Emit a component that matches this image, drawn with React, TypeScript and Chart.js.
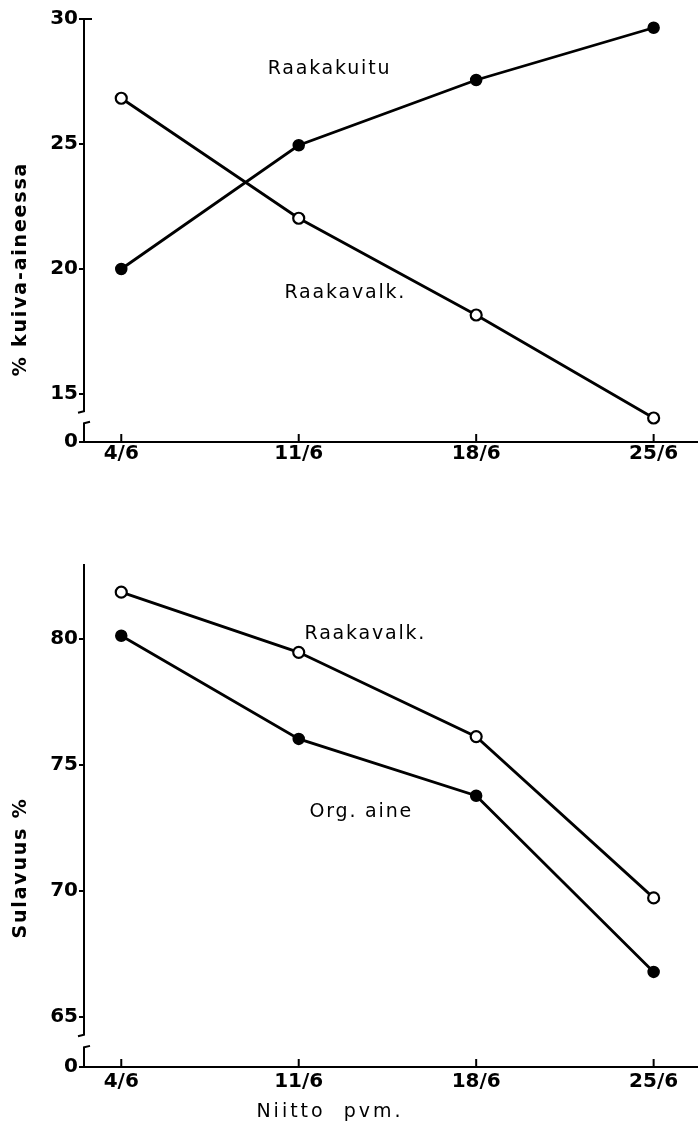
import React, { useEffect, useRef } from "react";
import { Chart, registerables } from "chart.js";
Chart.register(...registerables);

// ---- data ----
const categories = ["4/6", "11/6", "18/6", "25/6"];
// top panel: % kuiva-aineessa
const raakakuitu = [20.0, 24.95, 27.56, 29.65];
const raakavalkTop = [26.83, 22.03, 18.16, 14.04];
const topTicks = [15, 20, 25, 30];
const topMin = 13.08; // position of broken-axis "0"
const topMax = 30;
// bottom panel: Sulavuus %
const raakavalkBottom = [81.87, 79.48, 76.13, 69.72];
const orgAine = [80.14, 76.04, 73.78, 66.78];
const bottomTicks = [65, 70, 75, 80];
const bottomMin = 63.0;
const bottomMax = 82.95;
const zeroLabel = "0";

const W = 698;
const FAMILY = "'DejaVu Sans', sans-serif";

type Txt = { text: string; x: number; y: number; size: number; bold?: boolean; spacing: number; align?: CanvasTextAlign; data?: boolean; rotate?: boolean };

const decor = {
  id: "decor",
  afterDraw(chart: any, _args: any, opts: any) {
    const ctx: CanvasRenderingContext2D = chart.ctx;
    const xs = chart.scales.x;
    const ys = chart.scales.y;
    const area = chart.chartArea;
    ctx.save();
    ctx.strokeStyle = "#000";
    ctx.lineWidth = 2;
    ctx.lineCap = "butt";
    // upward x ticks
    categories.forEach((_, i) => {
      const px = xs.getPixelForValue(i);
      ctx.beginPath();
      ctx.moveTo(px, area.bottom);
      ctx.lineTo(px, area.bottom - 8);
      ctx.stroke();
    });
    // axis break
    const pLow = ys.getPixelForValue(opts.lowTick);
    const p0 = area.bottom;
    const up = pLow + (p0 - pLow) * 0.36;
    const lo = p0 - (p0 - pLow) * 0.39;
    const ax = area.left;
    ctx.fillStyle = "#fff";
    ctx.fillRect(ax - 3, up, 6, lo - up);
    ctx.beginPath();
    ctx.moveTo(ax, up - 3);
    ctx.lineTo(ax, up);
    ctx.lineTo(ax - 6, up + 1.5);
    ctx.stroke();
    ctx.beginPath();
    ctx.moveTo(ax, lo + 3);
    ctx.lineTo(ax, lo);
    ctx.lineTo(ax + 6, lo - 1.5);
    ctx.stroke();
    if (opts.topHook) {
      ctx.beginPath();
      ctx.moveTo(ax, area.top);
      ctx.lineTo(ax + 8, area.top);
      ctx.stroke();
    }
    // texts
    ctx.fillStyle = "#000";
    ctx.textBaseline = "middle";
    (opts.texts as Txt[]).forEach((t) => {
      ctx.font = `${t.bold ? "bold " : ""}${t.size}px ${FAMILY}`;
      (ctx as any).letterSpacing = `${t.spacing}px`;
      ctx.textAlign = t.align || "left";
      let px = t.x;
      let py = t.y;
      if (t.data) {
        px = xs.getPixelForValue(t.x);
        py = ys.getPixelForValue(t.y);
      }
      if (t.rotate) {
        ctx.save();
        ctx.translate(px, py);
        ctx.rotate(-Math.PI / 2);
        ctx.fillText(t.text, 0, 0);
        ctx.restore();
      } else {
        ctx.fillText(t.text, px, py);
      }
    });
    (ctx as any).letterSpacing = "0px";
    ctx.restore();
  },
};

const tickFont = { family: FAMILY, size: 20, weight: "bold" as const };

function series(label: string, vals: number[], filled: boolean) {
  return {
    label,
    data: categories.map((_, i) => ({ x: i, y: vals[i] })),
    borderColor: "#000",
    borderWidth: 2.8,
    pointRadius: 5.5,
    pointBackgroundColor: filled ? "#000" : "#fff",
    pointBorderColor: "#000",
    pointBorderWidth: filled ? 1.5 : 2.2,
    fill: false,
    tension: 0,
    clip: false,
  };
}

function makeConfig(p: {
  datasets: any[];
  yMin: number;
  yMax: number;
  yTicks: number[];
  padTop: number;
  xAxisH: number;
  xPad: number;
  texts: Txt[];
  topHook: boolean;
}): any {
  return {
    type: "line",
    data: { datasets: p.datasets },
    plugins: [decor],
    options: {
      animation: false,
      responsive: false,
      devicePixelRatio: 1,
      layout: { autoPadding: false, padding: { top: p.padTop, left: 0, right: 0, bottom: 0 } },
      plugins: {
        legend: { display: false },
        tooltip: { enabled: false },
        decor: { lowTick: p.yTicks[0], texts: p.texts, topHook: p.topHook },
      },
      scales: {
        x: {
          type: "linear",
          min: -0.21,
          max: 3.25,
          afterBuildTicks: (s: any) => {
            s.ticks = categories.map((_, i) => ({ value: i }));
          },
          afterFit: (s: any) => {
            s.height = p.xAxisH;
          },
          ticks: {
            callback: (v: any) => categories[v] ?? "",
            font: tickFont,
            color: "#000",
            padding: p.xPad,
            autoSkip: false,
            maxRotation: 0,
          },
          grid: { display: false, drawTicks: false },
          border: { display: true, color: "#000", width: 2 },
        },
        y: {
          type: "linear",
          min: p.yMin,
          max: p.yMax,
          afterBuildTicks: (s: any) => {
            s.ticks = [p.yMin, ...p.yTicks].map((v) => ({ value: v }));
          },
          afterFit: (s: any) => {
            s.width = 84;
          },
          ticks: {
            callback: (v: any) => (v === p.yMin ? zeroLabel : String(v)),
            font: tickFont,
            color: "#000",
            padding: 1,
          },
          grid: { display: true, drawOnChartArea: false, drawTicks: true, tickLength: 5, color: "#000", lineWidth: 2 },
          border: { display: true, color: "#000", width: 2 },
        },
      },
    },
  };
}

function ChartBox({ top, height, cfg }: { top: number; height: number; cfg: () => any }) {
  const ref = useRef<HTMLCanvasElement>(null);
  useEffect(() => {
    const c = new Chart(ref.current as HTMLCanvasElement, cfg());
    return () => c.destroy();
  }, []);
  return (
    <canvas
      ref={ref}
      width={W}
      height={height}
      style={{ position: "absolute", left: 0, top, width: W, height, display: "block" }}
    />
  );
}

const topCfg = () =>
  makeConfig({
    datasets: [series("Raakakuitu", raakakuitu, true), series("Raakavalk.", raakavalkTop, false)],
    yMin: topMin,
    yMax: topMax,
    yTicks: topTicks,
    padTop: 19,
    xAxisH: 38,
    xPad: 0,
    topHook: true,
    texts: [
      { text: "Raakakuitu", x: 0.825, y: 28.0, size: 19, spacing: 1.8, data: true },
      { text: "Raakavalk.", x: 0.92, y: 19.04, size: 19, spacing: 1.8, data: true },
      { text: "% kuiva-aineessa", x: 21, y: 269, size: 19, bold: true, spacing: 1.8, align: "center", rotate: true },
    ],
  });

const bottomCfg = () =>
  makeConfig({
    datasets: [series("Raakavalk.", raakavalkBottom, false), series("Org. aine", orgAine, true)],
    yMin: bottomMin,
    yMax: bottomMax,
    yTicks: bottomTicks,
    padTop: 45,
    xAxisH: 60,
    xPad: 3,
    topHook: false,
    texts: [
      { text: "Raakavalk.", x: 1.033, y: 80.21, size: 19, spacing: 1.8, data: true },
      { text: "Org. aine", x: 1.061, y: 73.14, size: 19, spacing: 1.8, data: true },
      { text: "Sulavuus %", x: 21, y: 348, size: 19, bold: true, spacing: 1.8, align: "center", rotate: true },
      { text: "Niitto  pvm.", x: 330, y: 592, size: 19, spacing: 3, align: "center" },
    ],
  });

export default function App() {
  return (
    <div
      style={{
        position: "absolute",
        left: 0,
        top: 0,
        width: W,
        height: 1127,
        overflow: "hidden",
        background: "#fff",
      }}
    >
      <ChartBox top={0} height={480} cfg={topCfg} />
      <ChartBox top={520} height={607} cfg={bottomCfg} />
    </div>
  );
}
